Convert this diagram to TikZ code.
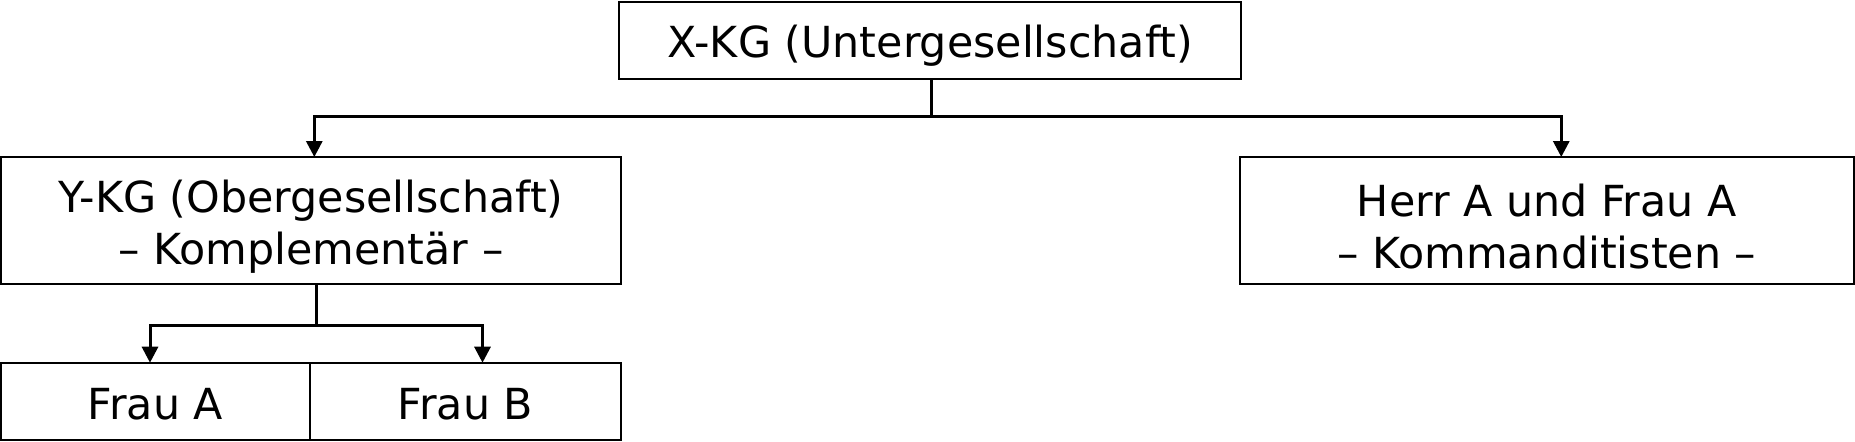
\documentclass[tikz,border=0pt]{standalone}
\usepackage{fontspec}
\setmainfont{DejaVu Sans}
\usetikzlibrary{arrows.meta}
\begin{document}
\begin{tikzpicture}[x=0.5pt,y=-0.5pt,
  box/.style={draw, line width=1pt, inner sep=0pt, outer sep=0pt},
  lbl/.style={inner sep=0pt, align=center, font=\fontsize{21.4}{26}\selectfont},
  conn/.style={line width=1.5pt},
  arr/.style={line width=1.5pt, -{Triangle[length=8pt,width=8pt]}}]
\useasboundingbox (0,0) rectangle (1855,441);
\node[box, minimum width=310.75pt, minimum height=38.75pt] (top) at (930,40.25) {};
\node[box, minimum width=310pt, minimum height=63.65pt] (left) at (311,220.65) {};
\node[box, minimum width=306.75pt, minimum height=63.65pt] (right) at (1546.75,220.65) {};
\node[box, minimum width=154.5pt, minimum height=38.65pt] (fa) at (155.5,401.35) {};
\node[box, minimum width=155.5pt, minimum height=38.65pt] (fb) at (465.5,401.35) {};
\node[lbl] (topt) at (930,46) {X-KG (Untergesellschaft)};
\node[lbl] (leftt) at (311,227) {Y-KG (Obergesellschaft)\\– Komplementär –};
\node[lbl] (rightt) at (1546.75,227) {Herr A und Frau A\\– Kommanditisten –};
\node[lbl] (fat) at (155.5,404) {Frau A};
\node[lbl] (fbt) at (465.5,404) {Frau B};
\draw[conn] ([xshift=0.85pt]top.south) -- ++(0,37) coordinate (j1);
\draw[arr] (j1) -| ([xshift=1.65pt]left.north);
\draw[arr] (j1) -| ([xshift=7.25pt]right.north);
\draw[conn] ([xshift=2.65pt]left.south) -- ++(0,41) coordinate (j2);
\draw[arr] (j2) -| ([xshift=-2.75pt]fa.north);
\draw[arr] (j2) -| ([xshift=8.5pt]fb.north);
\end{tikzpicture}
\end{document}
